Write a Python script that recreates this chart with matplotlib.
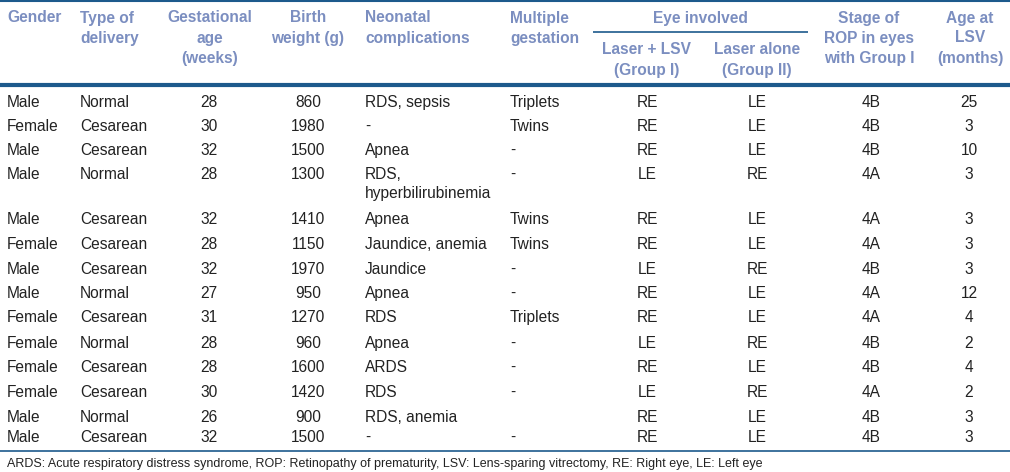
import matplotlib
matplotlib.use('Agg')
import matplotlib.pyplot as plt

# table data
gender = ['Male', 'Female', 'Male', 'Male', 'Male', 'Female', 'Male', 'Male',
          'Female', 'Female', 'Female', 'Female', 'Male', 'Male']
delivery = ['Normal', 'Cesarean', 'Cesarean', 'Normal', 'Cesarean', 'Cesarean', 'Cesarean',
            'Normal', 'Cesarean', 'Normal', 'Cesarean', 'Cesarean', 'Normal', 'Cesarean']
gest_age = [28, 30, 32, 28, 32, 28, 32, 27, 31, 28, 28, 30, 26, 32]
birth_weight = [860, 1980, 1500, 1300, 1410, 1150, 1970, 950, 1270, 960, 1600, 1420, 900, 1500]
complications = ['RDS, sepsis', '-', 'Apnea', 'RDS,\nhyperbilirubinemia', 'Apnea',
                 'Jaundice, anemia', 'Jaundice', 'Apnea', 'RDS', 'Apnea', 'ARDS', 'RDS',
                 'RDS, anemia', '-']
multiple = ['Triplets', 'Twins', '-', '-', 'Twins', 'Twins', '-', '-', 'Triplets', '-', '-', '-',
            '', '-']
group1 = ['RE', 'RE', 'RE', 'LE', 'RE', 'RE', 'LE', 'RE', 'RE', 'LE', 'RE', 'LE', 'RE', 'RE']
group2 = ['LE', 'LE', 'LE', 'RE', 'LE', 'LE', 'RE', 'LE', 'LE', 'RE', 'LE', 'RE', 'LE', 'LE']
stage = ['4B', '4B', '4B', '4A', '4A', '4A', '4B', '4A', '4A', '4B', '4B', '4A', '4B', '4B']
age_lsv = [25, 3, 10, 3, 3, 3, 3, 12, 4, 2, 4, 2, 3, 3]

footnote = ('ARDS: Acute respiratory distress syndrome, ROP: Retinopathy of prematurity, '
            'LSV: Lens-sparing vitrectomy, RE: Right eye, LE: Left eye')

# layout (pixels)
row_y = [102, 126, 150, 174, 219, 244, 269, 293, 317, 343, 367, 392, 417, 437]
head_col = '#7b8ec0'
line_col = '#1d5a8c'
txt_col = '#222222'
font = ['Liberation Sans', 'DejaVu Sans']

fig = plt.figure(figsize=(10.1, 4.72), dpi=100)
ax = fig.add_axes([0, 0, 1, 1])
ax.set_xlim(0, 1010)
ax.set_ylim(472, 0)
ax.set_axis_off()

def head(x, lines, ys, ha):
    for s, y in zip(lines, ys):
        ax.text(x, y, s, ha=ha, va='center', fontsize=11.2, fontweight='bold',
                color=head_col, family=font)

y3 = [18, 38, 58]
head(7, ['Gender'], y3, 'left')
head(80, ['Type of', 'delivery'], y3, 'left')
head(210, ['Gestational', 'age', '(weeks)'], y3, 'center')
head(308, ['Birth', 'weight (g)'], y3, 'center')
head(365, ['Neonatal', 'complications'], y3, 'left')
head(510, ['Multiple', 'gestation'], y3, 'left')
head(700, ['Eye involved'], y3, 'center')
head(647, ['Laser + LSV', '(Group I)'], [50, 70], 'center')
head(757, ['Laser alone', '(Group II)'], [50, 70], 'center')
head(869, ['Stage of', 'ROP in eyes', 'with Group I'], y3, 'center')
head(970, ['Age at', 'LSV', '(months)'], y3, 'center')

ax.plot([0, 1010], [1, 1], color=line_col, lw=1.5, solid_capstyle='butt')
ax.plot([593, 808], [32, 32], color=line_col, lw=1.2, solid_capstyle='butt')
ax.plot([0, 1010], [85, 85], color=line_col, lw=3, solid_capstyle='butt')
ax.plot([0, 1010], [451, 451], color=line_col, lw=1.2, solid_capstyle='butt')

cols = [(gender, 7, 'left'), (delivery, 80, 'left'), (gest_age, 209, 'center'),
        (birth_weight, 308, 'center'), (complications, 365, 'left'),
        (multiple, 510, 'left'), (group1, 647, 'center'), (group2, 757, 'center'),
        (stage, 871, 'center'), (age_lsv, 969, 'center')]

for vals, x, ha in cols:
    for v, y in zip(vals, row_y):
        ax.text(x, y - 7, str(v), ha=ha, va='top', fontsize=11.2, color=txt_col,
                family=font, linespacing=1.35)

ax.text(7, 464, footnote, ha='left', va='center', fontsize=9, color=txt_col, family=font)

fig.savefig('out.png', dpi=100)
